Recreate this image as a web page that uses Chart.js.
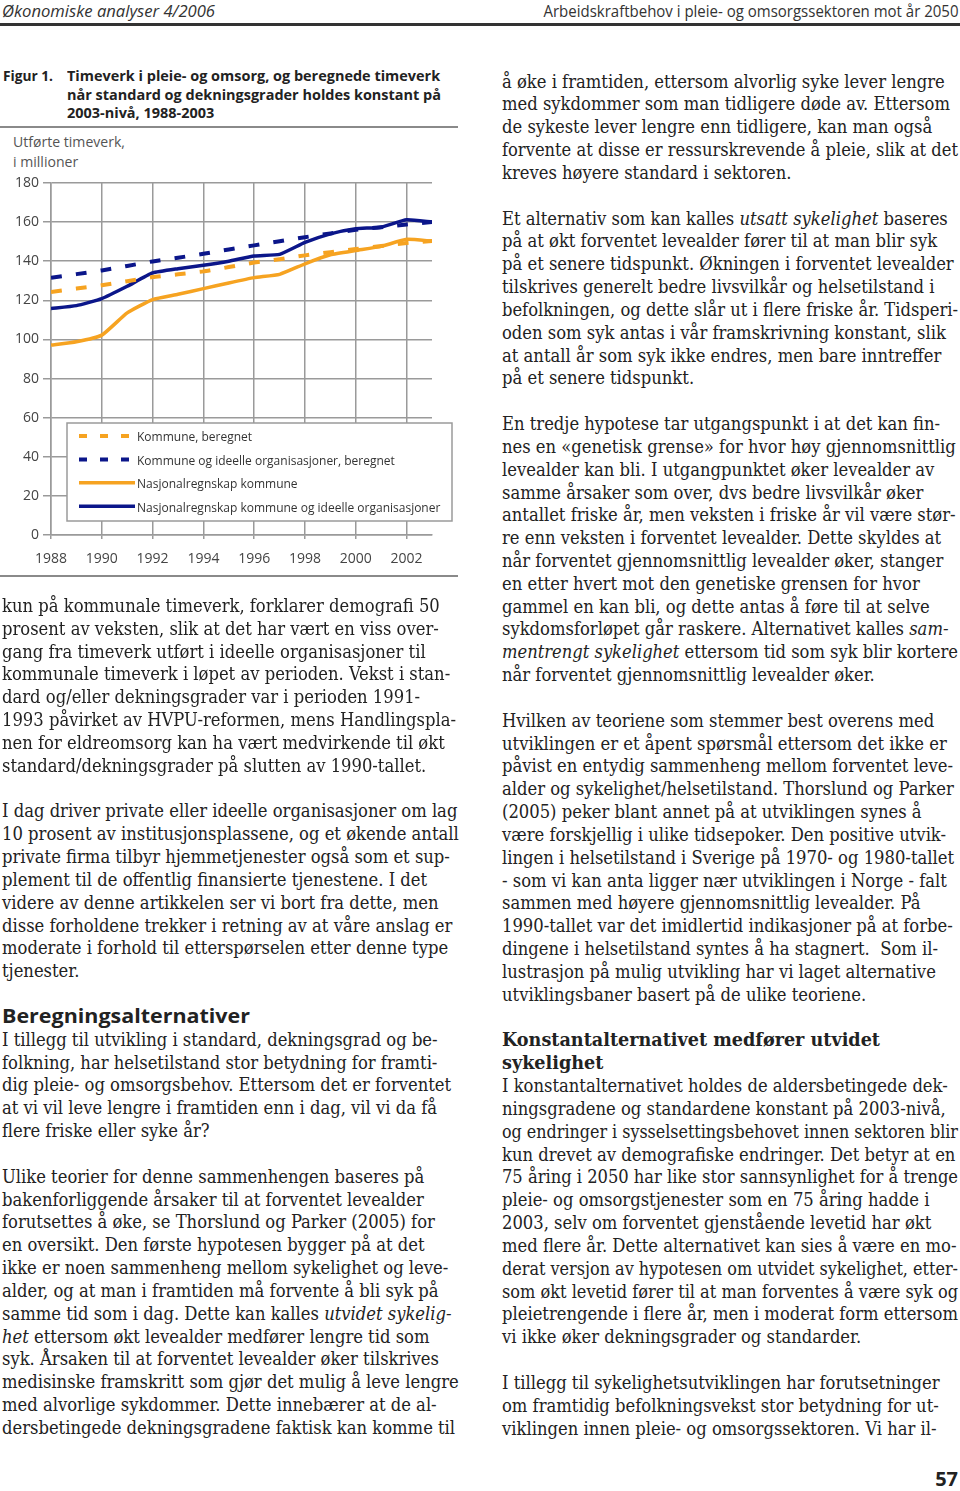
<!DOCTYPE html>
<html lang="no">
<head>
<meta charset="utf-8">
<title>Arbeidskraftbehov i pleie- og omsorgssektoren mot år 2050</title>
<script src="https://cdn.jsdelivr.net/npm/chart.js@4"></script>
<style>
  html, body { margin: 0; padding: 0; background: #fff; }
  body { width: 960px; height: 1491px; position: relative; overflow: hidden; color: #222; }
  .abs { position: absolute; white-space: nowrap; }
  .sans { font-family: "Open Sans", "Noto Sans", sans-serif; }
  .para { position: absolute; white-space: nowrap; font-family: "DejaVu Serif Condensed", "DejaVu Serif", serif; font-stretch: condensed; line-height: 22.83px; color: #222; }
  .para > div { width: max-content; }
  .para.hs { font-weight: bold; }
  .para.hsans { font-family: "Open Sans", sans-serif; font-stretch: normal; font-weight: bold; font-size: 19px; }
  .rule { position: absolute; }
  #chartBox { position: absolute; left: 0; top: 130px; width: 460px; height: 450px; }
</style>
</head>
<body>

<div class="abs sans" id="hdrL" data-w="213" style="left:2px; top:0px; font-size:17px; font-style:italic; line-height:22px; color:#333;">Økonomiske analyser 4/2006</div>
<div class="abs sans" id="hdrR" data-w="415" data-origin="right top" style="right:2px; top:0px; font-size:17px; line-height:22px; color:#333;">Arbeidskraftbehov i pleie- og omsorgssektoren mot år 2050</div>
<div class="rule" style="left:0; top:23px; width:960px; height:2.5px; background:#333;"></div>

<div class="abs sans" data-w="50" style="left:3px; top:67px; font-size:14.5px; font-weight:bold; line-height:18.7px; color:#222;">Figur 1.</div>
<div class="abs sans" data-w="374" style="left:67px; top:67px; font-size:14.5px; font-weight:bold; line-height:18.7px; color:#222;">
  <div>Timeverk i pleie- og omsorg, og beregnede timeverk</div>
  <div>når standard og dekningsgrader holdes konstant på</div>
  <div>2003-nivå, 1988-2003</div>
</div>
<div class="rule" style="left:0; top:126px; width:458px; height:2px; background:#8a8a8a;"></div>

<div class="abs sans" data-w="112" style="left:13px; top:132px; font-size:14px; line-height:19.6px; color:#555;">
  <div>Utførte timeverk,</div>
  <div>i millioner</div>
</div>

<div id="chartBox"><canvas id="chart" width="460" height="450"></canvas></div>
<div class="rule" style="left:0; top:575px; width:458px; height:2px; background:#8a8a8a;"></div>

<!-- venstre spalte -->
<div class="para" data-col="L" data-slot="0">
  <div>kun på kommunale timeverk, forklarer demografi 50</div>
  <div>prosent av veksten, slik at det har vært en viss over-</div>
  <div>gang fra timeverk utført i ideelle organisasjoner til</div>
  <div>kommunale timeverk i løpet av perioden. Vekst i stan-</div>
  <div>dard og/eller dekningsgrader var i perioden 1991-</div>
  <div>1993 påvirket av HVPU-reformen, mens Handlingspla-</div>
  <div>nen for eldreomsorg kan ha vært medvirkende til økt</div>
  <div>standard/dekningsgrader på slutten av 1990-tallet.</div>
</div>
<div class="para" data-col="L" data-slot="9">
  <div>I dag driver private eller ideelle organisasjoner om lag</div>
  <div>10 prosent av institusjonsplassene, og et økende antall</div>
  <div>private firma tilbyr hjemmetjenester også som et sup-</div>
  <div>plement til de offentlig finansierte tjenestene. I det</div>
  <div>videre av denne artikkelen ser vi bort fra dette, men</div>
  <div>disse forholdene trekker i retning av at våre anslag er</div>
  <div>moderate i forhold til etterspørselen etter denne type</div>
  <div>tjenester.</div>
</div>
<div class="para hsans" data-col="L" data-slot="18" data-w="248">
  <div>Beregningsalternativer</div>
</div>
<div class="para" data-col="L" data-slot="19">
  <div>I tillegg til utvikling i standard, dekningsgrad og be-</div>
  <div>folkning, har helsetilstand stor betydning for framti-</div>
  <div>dig pleie- og omsorgsbehov. Ettersom det er forventet</div>
  <div>at vi vil leve lengre i framtiden enn i dag, vil vi da få</div>
  <div>flere friske eller syke år?</div>
</div>
<div class="para" data-col="L" data-slot="25">
  <div>Ulike teorier for denne sammenhengen baseres på</div>
  <div>bakenforliggende årsaker til at forventet levealder</div>
  <div>forutsettes å øke, se Thorslund og Parker (2005) for</div>
  <div>en oversikt. Den første hypotesen bygger på at det</div>
  <div>ikke er noen sammenheng mellom sykelighet og leve-</div>
  <div>alder, og at man i framtiden må forvente å bli syk på</div>
  <div>samme tid som i dag. Dette kan kalles <i>utvidet sykelig-</i></div>
  <div><i>het</i> ettersom økt levealder medfører lengre tid som</div>
  <div>syk. Årsaken til at forventet levealder øker tilskrives</div>
  <div>medisinske framskritt som gjør det mulig å leve lengre</div>
  <div>med alvorlige sykdommer. Dette innebærer at de al-</div>
  <div>dersbetingede dekningsgradene faktisk kan komme til</div>
</div>

<!-- høyre spalte -->
<div class="para" data-col="R" data-slot="0">
  <div>å øke i framtiden, ettersom alvorlig syke lever lengre</div>
  <div>med sykdommer som man tidligere døde av. Ettersom</div>
  <div>de sykeste lever lengre enn tidligere, kan man også</div>
  <div>forvente at disse er ressurskrevende å pleie, slik at det</div>
  <div>kreves høyere standard i sektoren.</div>
</div>
<div class="para" data-col="R" data-slot="6">
  <div>Et alternativ som kan kalles <i>utsatt sykelighet</i> baseres</div>
  <div>på at økt forventet levealder fører til at man blir syk</div>
  <div>på et senere tidspunkt. Økningen i forventet levealder</div>
  <div>tilskrives generelt bedre livsvilkår og helsetilstand i</div>
  <div>befolkningen, og dette slår ut i flere friske år. Tidsperi-</div>
  <div>oden som syk antas i vår framskrivning konstant, slik</div>
  <div>at antall år som syk ikke endres, men bare inntreffer</div>
  <div>på et senere tidspunkt.</div>
</div>
<div class="para" data-col="R" data-slot="15">
  <div>En tredje hypotese tar utgangspunkt i at det kan fin-</div>
  <div>nes en «genetisk grense» for hvor høy gjennomsnittlig</div>
  <div>levealder kan bli. I utgangpunktet øker levealder av</div>
  <div>samme årsaker som over, dvs bedre livsvilkår øker</div>
  <div>antallet friske år, men veksten i friske år vil være stør-</div>
  <div>re enn veksten i forventet levealder. Dette skyldes at</div>
  <div>når forventet gjennomsnittlig levealder øker, stanger</div>
  <div>en etter hvert mot den genetiske grensen for hvor</div>
  <div>gammel en kan bli, og dette antas å føre til at selve</div>
  <div>sykdomsforløpet går raskere. Alternativet kalles <i>sam-</i></div>
  <div><i>mentrengt sykelighet</i> ettersom tid som syk blir kortere</div>
  <div>når forventet gjennomsnittlig levealder øker.</div>
</div>
<div class="para" data-col="R" data-slot="28">
  <div>Hvilken av teoriene som stemmer best overens med</div>
  <div>utviklingen er et åpent spørsmål ettersom det ikke er</div>
  <div>påvist en entydig sammenheng mellom forventet leve-</div>
  <div>alder og sykelighet/helsetilstand. Thorslund og Parker</div>
  <div>(2005) peker blant annet på at utviklingen synes å</div>
  <div>være forskjellig i ulike tidsepoker. Den positive utvik-</div>
  <div>lingen i helsetilstand i Sverige på 1970- og 1980-tallet</div>
  <div>- som vi kan anta ligger nær utviklingen i Norge - falt</div>
  <div>sammen med høyere gjennomsnittlig levealder. På</div>
  <div>1990-tallet var det imidlertid indikasjoner på at forbe-</div>
  <div>dingene i helsetilstand syntes å ha stagnert.&nbsp; Som il-</div>
  <div>lustrasjon på mulig utvikling har vi laget alternative</div>
  <div>utviklingsbaner basert på de ulike teoriene.</div>
</div>
<div class="para hs" data-col="R" data-slot="42" data-w="378">
  <div>Konstantalternativet medfører utvidet</div>
  <div>sykelighet</div>
</div>
<div class="para" data-col="R" data-slot="44">
  <div>I konstantalternativet holdes de aldersbetingede dek-</div>
  <div>ningsgradene og standardene konstant på 2003-nivå,</div>
  <div>og endringer i sysselsettingsbehovet innen sektoren blir</div>
  <div>kun drevet av demografiske endringer. Det betyr at en</div>
  <div>75 åring i 2050 har like stor sannsynlighet for å trenge</div>
  <div>pleie- og omsorgstjenester som en 75 åring hadde i</div>
  <div>2003, selv om forventet gjenstående levetid har økt</div>
  <div>med flere år. Dette alternativet kan sies å være en mo-</div>
  <div>derat versjon av hypotesen om utvidet sykelighet, etter-</div>
  <div>som økt levetid fører til at man forventes å være syk og</div>
  <div>pleietrengende i flere år, men i moderat form ettersom</div>
  <div>vi ikke øker dekningsgrader og standarder.</div>
</div>
<div class="para" data-col="R" data-slot="57">
  <div>I tillegg til sykelighetsutviklingen har forutsetninger</div>
  <div>om framtidig befolkningsvekst stor betydning for ut-</div>
  <div>viklingen innen pleie- og omsorgssektoren. Vi har il-</div>
</div>

<div class="abs sans" style="right:2px; top:1466px; font-size:20px; font-weight:bold; line-height:26px; color:#222;">57</div>

<script>
// data (millioner timeverk)
const years = [1988, 1989, 1990, 1991, 1992, 1993, 1994, 1995, 1996, 1997, 1998, 1999, 2000, 2001, 2002, 2003];
const kommuneBeregnet = [124.3, 126.0, 127.7, 129.8, 131.9, 133.3, 134.8, 137.0, 139.3, 141.0, 143.0, 144.6, 146.2, 147.8, 149.3, 150.3];
const kommuneIdeelleBeregnet = [131.6, 133.4, 135.3, 137.6, 139.9, 141.8, 143.8, 146.0, 148.1, 150.2, 152.3, 154.2, 156.1, 157.4, 158.8, 160.0];
const nrKommune = [97.1, 98.8, 102.2, 113.6, 120.4, 123.1, 126.0, 128.9, 131.6, 133.3, 138.7, 143.3, 145.5, 147.6, 151.2, 150.3];
const nrKommuneIdeelle = [115.8, 117.3, 120.9, 127.2, 134.0, 136.2, 137.9, 140.0, 142.7, 143.5, 149.6, 154.0, 156.6, 157.4, 161.2, 160.0];

const seriesLabels = ["Kommune, beregnet", "Kommune og ideelle organisasjoner, beregnet", "Nasjonalregnskap kommune", "Nasjonalregnskap kommune og ideelle organisasjoner"];
const xTicks = [1988, 1990, 1992, 1994, 1996, 1998, 2000, 2002];
const yTicks = [0, 20, 40, 60, 80, 100, 120, 140, 160, 180];

const ORANGE = "#F6A321";
const BLUE = "#0B168A";
const GRID = "#9a9a9a";

// text layout: body font size fitted to one known line width
const probe = document.createElement("span");
probe.className = "para";
probe.style.fontSize = "100px";
probe.textContent = "å øke i framtiden, ettersom alvorlig syke lever lengre";
document.body.appendChild(probe);
const fs = 100 * 443 / probe.getBoundingClientRect().width;
probe.remove();

const PITCH = 22.83;
const base = { L: 612.7, R: 88.3 };
const left = { L: 2, R: 502 };
const maxW = { L: 457, R: 456 };
function baseOffset(size, a, d) {
  return (PITCH - (a + d) * size) / 2 + a * size;
}
document.querySelectorAll(".para").forEach(el => {
  const col = el.dataset.col;
  const slot = +el.dataset.slot;
  let size = fs, a = 0.928, d = 0.236;
  if (el.classList.contains("hsans")) { size = 19; a = 1.069; d = 0.293; }
  else el.style.fontSize = fs + "px";
  el.style.left = left[col] + "px";
  el.style.top = (base[col] + slot * PITCH - baseOffset(size, a, d)) + "px";
  if (el.dataset.w) return;
  // squeeze the few lines that run past the column edge
  el.querySelectorAll(":scope > div").forEach(line => {
    const w = line.getBoundingClientRect().width;
    if (w > maxW[col]) {
      line.style.transformOrigin = "left top";
      line.style.transform = "scaleX(" + (maxW[col] / w) + ")";
    }
  });
});

document.querySelectorAll("[data-w]").forEach(el => {
  const nat = el.getBoundingClientRect().width;
  el.style.transformOrigin = el.dataset.origin || "left top";
  el.style.transform = "scaleX(" + (+el.dataset.w / nat) + ")";
});

// legend drawn as a framed box inside the plot, like the original
const boxLegend = {
  id: "boxLegend",
  afterDatasetsDraw(chart) {
    const { ctx, chartArea } = chart;
    const x0 = chartArea.left + 16, x1 = chartArea.right + 20;
    const y0 = chartArea.bottom - 112, y1 = chartArea.bottom - 14;
    ctx.save();
    ctx.fillStyle = "#fff";
    ctx.fillRect(x0, y0, x1 - x0, y1 - y0);
    ctx.strokeStyle = GRID;
    ctx.lineWidth = 1.5;
    ctx.strokeRect(x0, y0, x1 - x0, y1 - y0);
    ctx.font = "12px 'Open Sans'";
    ctx.textBaseline = "middle";
    chart.data.datasets.forEach((ds, i) => {
      const y = y0 + 13 + i * 23.4;
      ctx.strokeStyle = ds.borderColor;
      ctx.lineWidth = ds.borderWidth;
      ctx.lineCap = "butt";
      ctx.setLineDash(ds.borderDash && ds.borderDash.length ? [8, 13] : []);
      ctx.beginPath();
      ctx.moveTo(x0 + 12, y);
      ctx.lineTo(x0 + 68, y);
      ctx.stroke();
      ctx.setLineDash([]);
      ctx.fillStyle = "#333";
      ctx.fillText(ds.label, x0 + 70, y + 2);
    });
    ctx.restore();
  }
};

function points(values) {
  return years.map((yr, i) => ({ x: yr, y: values[i] }));
}

const tickFont = { family: "'Open Sans'", size: 14 };

new Chart(document.getElementById("chart"), {
  type: "line",
  data: {
    datasets: [
      { label: seriesLabels[0], data: points(kommuneBeregnet), borderColor: ORANGE, borderWidth: 4, borderDash: [11, 14] },
      { label: seriesLabels[1], data: points(kommuneIdeelleBeregnet), borderColor: BLUE, borderWidth: 4, borderDash: [11, 14] },
      { label: seriesLabels[2], data: points(nrKommune), borderColor: ORANGE, borderWidth: 3.5, borderDash: [] },
      { label: seriesLabels[3], data: points(nrKommuneIdeelle), borderColor: BLUE, borderWidth: 3.5, borderDash: [] },
    ],
  },
  options: {
    responsive: false,
    animation: false,
    devicePixelRatio: 1,
    layout: { padding: { top: 53, right: 28, left: 0, bottom: 0 } },
    elements: {
      point: { radius: 0 },
      line: { tension: 0.15, borderJoinStyle: "round", fill: false },
    },
    plugins: { legend: { display: false }, tooltip: { enabled: false } },
    scales: {
      x: {
        type: "linear",
        min: 1988,
        max: 2003,
        afterBuildTicks: s => { s.ticks = xTicks.map(v => ({ value: v })); },
        afterFit: s => { s.height = 45; },
        grid: { color: GRID, lineWidth: 1.5, tickLength: 4 },
        border: { color: GRID, width: 1.5 },
        ticks: { font: tickFont, color: "#444", padding: 12, maxRotation: 0, autoSkip: false, callback: v => String(v) },
      },
      y: {
        min: 0,
        max: 180,
        afterBuildTicks: s => { s.ticks = yTicks.map(v => ({ value: v })); },
        afterFit: s => { s.width = 51; },
        grid: { color: GRID, lineWidth: 1.5, tickLength: 8 },
        border: { color: GRID, width: 1.5 },
        ticks: { font: tickFont, color: "#444", padding: 4, callback: v => String(v) },
      },
    },
  },
  plugins: [boxLegend],
});
</script>
</body>
</html>
